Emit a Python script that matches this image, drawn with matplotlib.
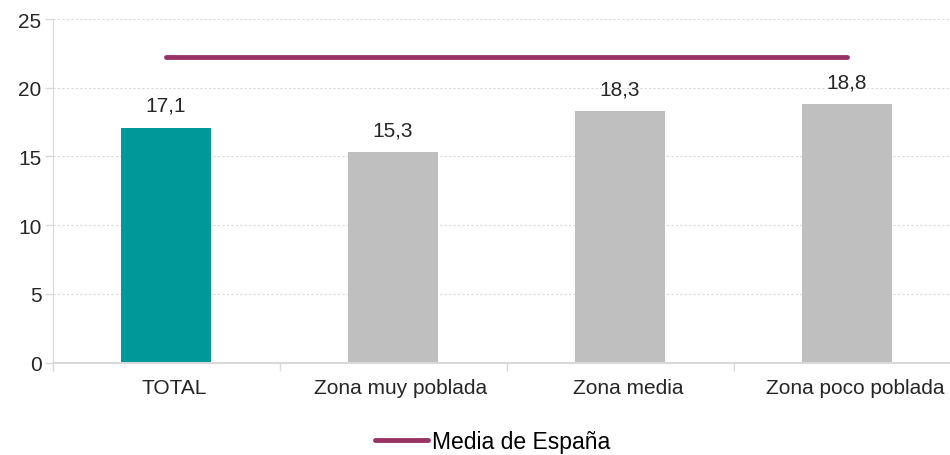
import matplotlib.pyplot as plt
import matplotlib.transforms as mtransforms
import numpy as np

plt.rcParams['font.family'] = ['Liberation Sans', 'DejaVu Sans']

# data
categories = ["TOTAL", "Zona muy poblada", "Zona media", "Zona poco poblada"]
values = [17.1, 15.3, 18.3, 18.8]
media_espana = [22.2, 22.2, 22.2, 22.2]
bar_colors = ["#009999", "#BFBFBF", "#BFBFBF", "#BFBFBF"]

fig = plt.figure(figsize=(9.5, 4.56), dpi=100)
ax = fig.add_axes([52.5 / 950, 1 - 363.5 / 456, 1 - 52.5 / 950, (363.5 - 20) / 456])

x = np.arange(len(categories))
ax.bar(x, values, 0.4, color=bar_colors, zorder=2)
ax.plot(x, media_espana, color="#993366", lw=3.5, solid_capstyle="round",
        label="Media de España", zorder=3)

for i, v in enumerate(values):
    ax.annotate(f"{v:.1f}".replace(".", ","), (x[i], v), xytext=(0, 16),
                textcoords="offset points", ha="center", va="center",
                fontsize=15, color="#262626")

ax.set_yticks(range(0, 26, 5))
ax.set_xticks(x)
ax.set_xticklabels(categories)
ax.set_xticks(np.arange(-0.5, 4, 1), minor=True)
ax.set_ylim(0, 25)
ax.set_xlim(-0.5, (950 - 52.5) / 227 - 0.5)
ax.tick_params(axis="x", which="major", length=0, pad=11, labelsize=15, colors="#262626")
ax.tick_params(axis="x", which="minor", length=6, color="#D9D9D9", width=1)
ax.tick_params(axis="y", length=6, width=1, color="#D9D9D9", pad=2,
               labelsize=15, labelcolor="#262626")

# category labels sit a little right of the bar centres in the original
shift = mtransforms.ScaledTranslation(8 / 100, 0, fig.dpi_scale_trans)
for lab in ax.get_xticklabels():
    lab.set_transform(lab.get_transform() + shift)

ax.grid(axis="y", color="#D9D9D9", ls=(0, (2, 2)), lw=0.8, zorder=0)
for s in ["top", "right"]:
    ax.spines[s].set_visible(False)
ax.spines["left"].set_color("#D9D9D9")
ax.spines["bottom"].set_color("#D9D9D9")
ax.spines["bottom"].set_linewidth(1.5)

fig.legend(loc="center", bbox_to_anchor=(492.5 / 950, 1 - 443 / 456), frameon=False,
           fontsize=16.5, handlelength=2.3, handletextpad=0.17)

plt.savefig("out.png", dpi=100)
